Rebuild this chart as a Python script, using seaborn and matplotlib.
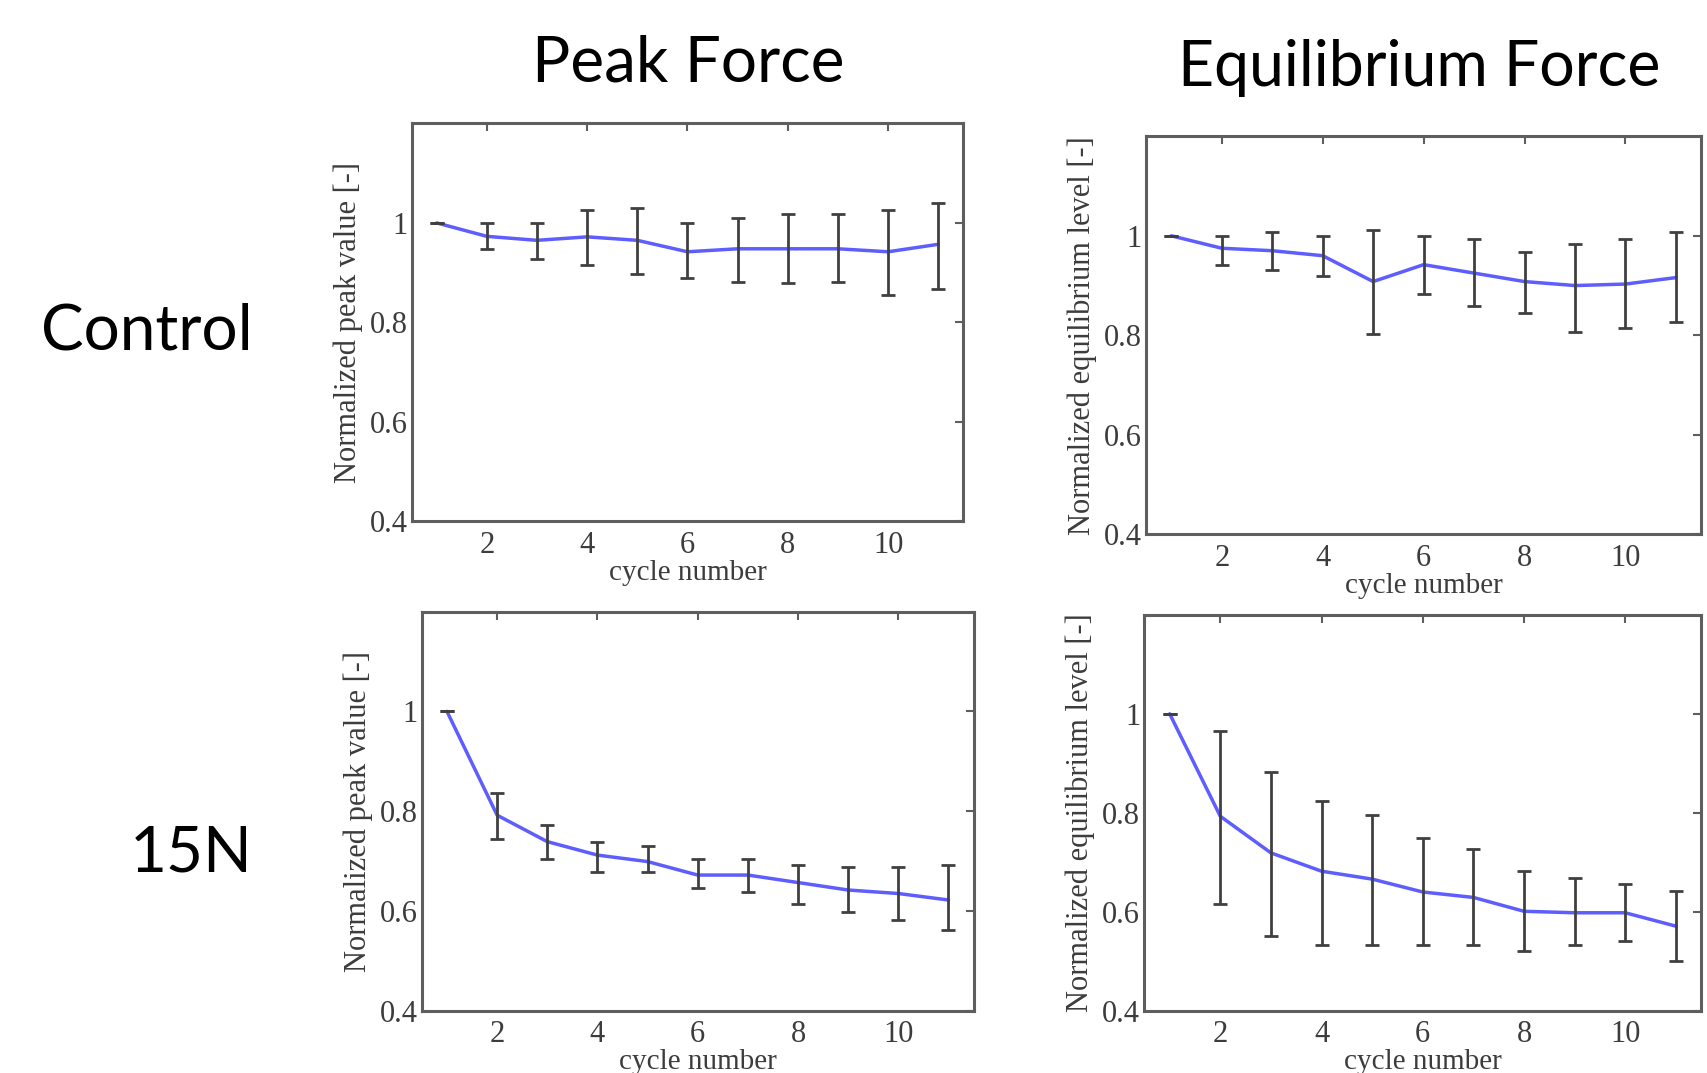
"""
Normalized peak / equilibrium force over loading cycles (Control vs 15N).

Saves out.png (about 1708x1073).
"""

import matplotlib

matplotlib.use("Agg")
import matplotlib.pyplot as plt
import numpy as np
import seaborn as sns

cycles = np.arange(1, 12)

# Control, peak force: mean and error bar ends
ctrl_peak_mean = [1.0, 0.973, 0.965, 0.972, 0.965, 0.942, 0.948, 0.948, 0.948, 0.942, 0.957]
ctrl_peak_lo = [1.0, 0.948, 0.927, 0.915, 0.898, 0.890, 0.881, 0.879, 0.881, 0.856, 0.868]
ctrl_peak_hi = [1.0, 1.000, 1.000, 1.025, 1.030, 1.000, 1.009, 1.017, 1.017, 1.025, 1.041]

# Control, equilibrium force
ctrl_eq_mean = [1.0, 0.975, 0.970, 0.960, 0.908, 0.942, 0.925, 0.908, 0.900, 0.903, 0.916]
ctrl_eq_lo = [1.0, 0.942, 0.932, 0.920, 0.802, 0.883, 0.859, 0.844, 0.807, 0.815, 0.826]
ctrl_eq_hi = [1.0, 1.000, 1.007, 0.999, 1.012, 1.000, 0.993, 0.967, 0.984, 0.993, 1.007]

# 15N, peak force
n15_peak_mean = [1.0, 0.792, 0.739, 0.712, 0.699, 0.672, 0.672, 0.657, 0.642, 0.635, 0.622]
n15_peak_lo = [1.0, 0.745, 0.705, 0.679, 0.679, 0.647, 0.639, 0.613, 0.597, 0.582, 0.562]
n15_peak_hi = [1.0, 0.837, 0.773, 0.739, 0.730, 0.705, 0.705, 0.692, 0.689, 0.689, 0.693]

# 15N, equilibrium force
n15_eq_mean = [1.0, 0.793, 0.719, 0.682, 0.666, 0.640, 0.629, 0.601, 0.598, 0.598, 0.571]
n15_eq_lo = [1.0, 0.616, 0.552, 0.533, 0.533, 0.532, 0.532, 0.521, 0.532, 0.540, 0.500]
n15_eq_hi = [1.0, 0.966, 0.882, 0.824, 0.796, 0.749, 0.727, 0.682, 0.668, 0.656, 0.641]

col_titles = ["Peak Force", "Equilibrium Force"]
row_titles = ["Control", "15N"]
y_labels = ["Normalized peak value [-]", "Normalized equilibrium level [-]"]
x_label = "cycle number"
y_ticks = [0.4, 0.6, 0.8, 1.0]
y_tick_labels = ["0.4", "0.6", "0.8", "1"]
x_ticks = [2, 4, 6, 8, 10]

LINE_COLOR = "#5e5eff"
BAR_COLOR = "#404040"
SPINE_COLOR = "#5e5e5e"
TEXT_COLOR = "#3c3c3c"
SERIF = ["Liberation Serif", "DejaVu Serif"]
SANS = ["Lato", "DejaVu Sans"]

# axes boxes in figure fractions [left, bottom, width, height]
BOXES = [
    [0.241, 0.514, 0.323, 0.371],
    [0.671, 0.502, 0.325, 0.371],
    [0.247, 0.058, 0.323, 0.372],
    [0.670, 0.058, 0.326, 0.369],
]


def draw_panel(ax, mean, lo, hi, ylabel):
    mean = np.asarray(mean)
    yerr = [mean - np.asarray(lo), np.asarray(hi) - mean]
    sns.lineplot(x=cycles, y=mean, ax=ax, color=LINE_COLOR, linewidth=2.5)
    ax.errorbar(cycles, mean, yerr=yerr, fmt="none", ecolor=BAR_COLOR,
                elinewidth=2.0, capsize=5, capthick=2.0, zorder=3)

    ax.set_xlim(0.5, 11.5)
    ax.set_ylim(0.4, 1.2)
    ax.set_xticks(x_ticks)
    ax.set_yticks(y_ticks)
    ax.set_yticklabels(y_tick_labels)
    ax.tick_params(direction="in", top=True, right=True, length=6, width=1.5,
                   color=SPINE_COLOR, labelsize=22, labelcolor=TEXT_COLOR)
    ax.tick_params(axis="x", pad=7)
    ax.tick_params(axis="y", pad=3)
    for lab in ax.get_xticklabels() + ax.get_yticklabels():
        lab.set_family(SERIF)
    for spine in ax.spines.values():
        spine.set_color(SPINE_COLOR)
        spine.set_linewidth(2.2)
    ax.grid(False)
    ax.set_xlabel(x_label, family=SERIF, fontsize=21, color=TEXT_COLOR, labelpad=0)
    ax.set_ylabel(ylabel, family=SERIF, fontsize=22, color=TEXT_COLOR)
    ax.yaxis.set_label_coords(-0.089, 0.5)


def main():
    sns.set_theme(style="white")
    fig = plt.figure(figsize=(17.08, 10.73), dpi=100)

    series = [
        (ctrl_peak_mean, ctrl_peak_lo, ctrl_peak_hi, y_labels[0]),
        (ctrl_eq_mean, ctrl_eq_lo, ctrl_eq_hi, y_labels[1]),
        (n15_peak_mean, n15_peak_lo, n15_peak_hi, y_labels[0]),
        (n15_eq_mean, n15_eq_lo, n15_eq_hi, y_labels[1]),
    ]
    for box, (mean, lo, hi, ylabel) in zip(BOXES, series):
        ax = fig.add_axes(box)
        draw_panel(ax, mean, lo, hi, ylabel)

    fig.text(688 / 1708, 1 - 63 / 1073, col_titles[0], family=SANS, fontsize=46,
             ha="center", va="center", color="black")
    fig.text(1419 / 1708, 1 - 68 / 1073, col_titles[1], family=SANS, fontsize=45,
             ha="center", va="center", color="black")
    fig.text(147 / 1708, 1 - 332 / 1073, row_titles[0], family=SANS, fontsize=46,
             ha="center", va="center", color="black")
    fig.text(191 / 1708, 1 - 853 / 1073, row_titles[1], family=SANS, fontsize=46,
             ha="center", va="center", color="black")

    fig.savefig("out.png", dpi=100, facecolor="white")
    plt.close(fig)


if __name__ == "__main__":
    main()
